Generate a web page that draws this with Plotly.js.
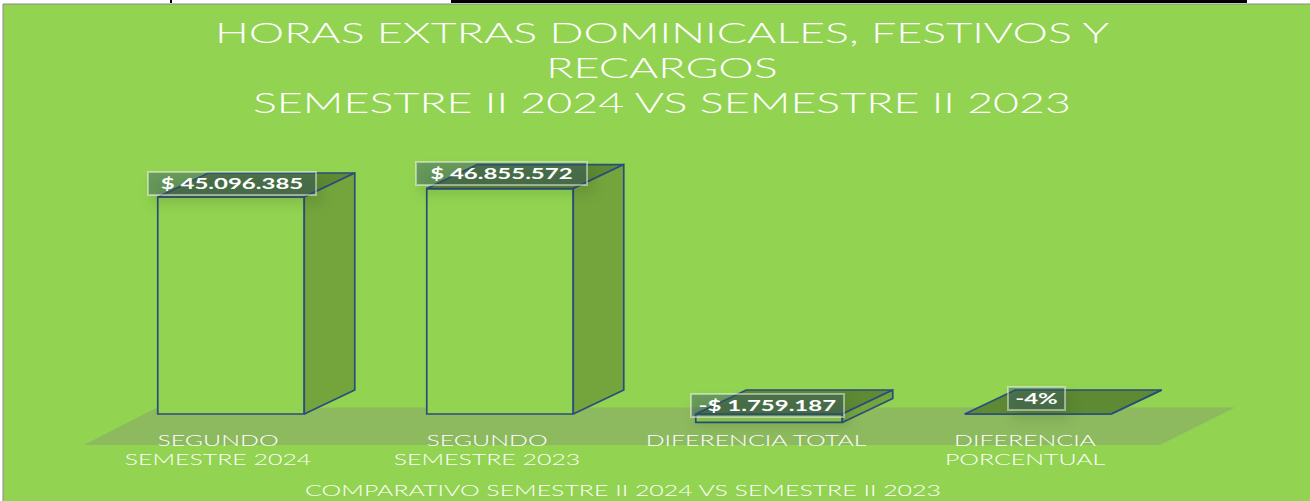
<!DOCTYPE html>
<html><head><meta charset="utf-8">
<script src="https://cdn.plot.ly/plotly-3.0.1.min.js"></script>
<style>html,body{margin:0;padding:0;background:#fff}#c{width:1310px;height:501px}
.annotation-text-g rect.bg{filter:drop-shadow(5px 8px 6px rgba(30,50,20,.3))}</style>
</head><body><div id="c"></div>
<script>
var categories=["SEGUNDO<br>SEMESTRE 2024","SEGUNDO<br>SEMESTRE 2023","DIFERENCIA TOTAL","DIFERENCIA<br>PORCENTUAL"];
var values=[45096385,46855572,-1759187,-0.04];
var valueLabels=["$ 45.096.385","$ 46.855.572","-$ 1.759.187","-4%"];
var tickPositions=[0,1,2,3];

var W=1310,H=501,GREEN="#92D351",EDGE="#2B4C7E";
var K=217/45096385, SLOT=269, ZERO=414, CAT0=218, AXW=1246;
var DX=50.5/SLOT, DY=24/K, BW=146.5/SLOT, OFF=13/SLOT;
var boxW=[166,169,151,55], boxShift=[14,15,9,15.5], boxShiftX=[1,1,-1.5,-2];

var centers=tickPositions.map(function(p){return p+OFF;});
var sideX=[],sideY=[],topX=[],topY=[];
values.forEach(function(v,i){
  var r=centers[i]+BW/2,l=centers[i]-BW/2,hi=Math.max(v,0),lo=Math.min(v,0);
  sideX.push(r,r+DX,r+DX,r,r,null); sideY.push(lo,lo+DY,hi+DY,hi,lo,null);
  topX.push(l,l+DX,r+DX,r,l,null); topY.push(hi,hi+DY,hi+DY,hi,hi,null);
});
var traces=[
 {type:"scatter",mode:"lines",x:topX,y:topY,fill:"toself",fillcolor:"#5E8A33",line:{color:EDGE,width:1.7},hoverinfo:"skip"},
 {type:"scatter",mode:"lines",x:sideX,y:sideY,fill:"toself",fillcolor:"#74A53D",line:{color:EDGE,width:1.7},hoverinfo:"skip"},
 {type:"bar",x:centers,y:values,width:BW,marker:{color:GREEN,line:{color:EDGE,width:1.7}},hoverinfo:"skip"}
];
function px(p){return p/W;} function py(p){return 1-p/H;}
var shapes=[
 {type:"rect",xref:"paper",yref:"paper",x0:px(3),x1:1.01,y0:-0.01,y1:py(4),fillcolor:GREEN,line:{color:"#8a8a8a",width:1},layer:"below"},
 {type:"rect",xref:"paper",yref:"paper",x0:px(451),x1:px(1247),y0:py(3),y1:1,fillcolor:"#000",line:{width:0},layer:"below"},
 {type:"rect",xref:"paper",yref:"paper",x0:px(170),x1:px(172),y0:py(3),y1:1,fillcolor:"#000",line:{width:0},layer:"below"},
 {type:"path",xref:"paper",yref:"paper",path:"M"+px(84)+","+py(445)+" L"+px(1160)+","+py(445)+" L"+px(1235)+","+py(407.5)+" L"+px(157)+","+py(407.5)+" Z",fillcolor:"rgba(128,128,128,0.3)",line:{width:0},layer:"below"}
];
var annotations=values.map(function(v,i){return {
  x:centers[i],y:Math.max(v,0),xref:"x",yref:"y",yanchor:"middle",xanchor:"center",yshift:boxShift[i],xshift:boxShiftX[i],
  text:"<b>"+valueLabels[i]+"</b>",showarrow:false,width:boxW[i],height:21,borderpad:0,
  font:{family:"Lato",size:15,color:"#fff"},bgcolor:"rgba(50,80,105,0.42)",bordercolor:"rgba(255,255,255,0.45)",borderwidth:2
};});
var layout={
 width:W,height:H,margin:{l:0,r:0,t:0,b:0},paper_bgcolor:"#fff",plot_bgcolor:"rgba(0,0,0,0)",showlegend:false,
 title:{text:"HORAS EXTRAS DOMINICALES, FESTIVOS Y<br>RECARGOS<br>SEMESTRE II 2024 VS SEMESTRE II 2023",
   font:{family:"Lato",size:27,weight:300,color:"#fff"},x:662/W,xref:"paper",xanchor:"center",y:1-43/H,yref:"paper",yanchor:"top"},
 xaxis:{domain:[0,AXW/W],range:[-CAT0/SLOT,(AXW-CAT0)/SLOT],anchor:"free",position:(H-430)/H,tickmode:"array",tickvals:tickPositions,ticktext:categories,
   showgrid:false,zeroline:false,showline:false,ticks:"",tickfont:{family:"Lato",size:15,weight:300,color:"#FFFFFF"},
   title:{text:"COMPARATIVO SEMESTRE II 2024 VS SEMESTRE II 2023",font:{family:"Lato",size:15,weight:300,color:"#FFFFFF"},standoff:18},automargin:false,fixedrange:true},
 yaxis:{range:[-(H-ZERO)/K,ZERO/K],domain:[0,1],visible:false,fixedrange:true},
 shapes:shapes,annotations:annotations
};
function stretch(sel,sx){
  document.querySelectorAll(sel).forEach(function(t){
    var cx=parseFloat(t.getAttribute("x"))||0,old=t.getAttribute("transform")||"";
    t.setAttribute("transform",old+" translate("+cx+",0) scale("+sx+",1) translate("+(-cx)+",0)");
  });
}
Plotly.newPlot("c",traces,layout,{displayModeBar:false,staticPlot:true}).then(function(){
  stretch(".gtitle",1.66);stretch(".xtick text",1.66);stretch(".xtitle",1.66);stretch(".annotation-text",1.6);
});
</script></body></html>
